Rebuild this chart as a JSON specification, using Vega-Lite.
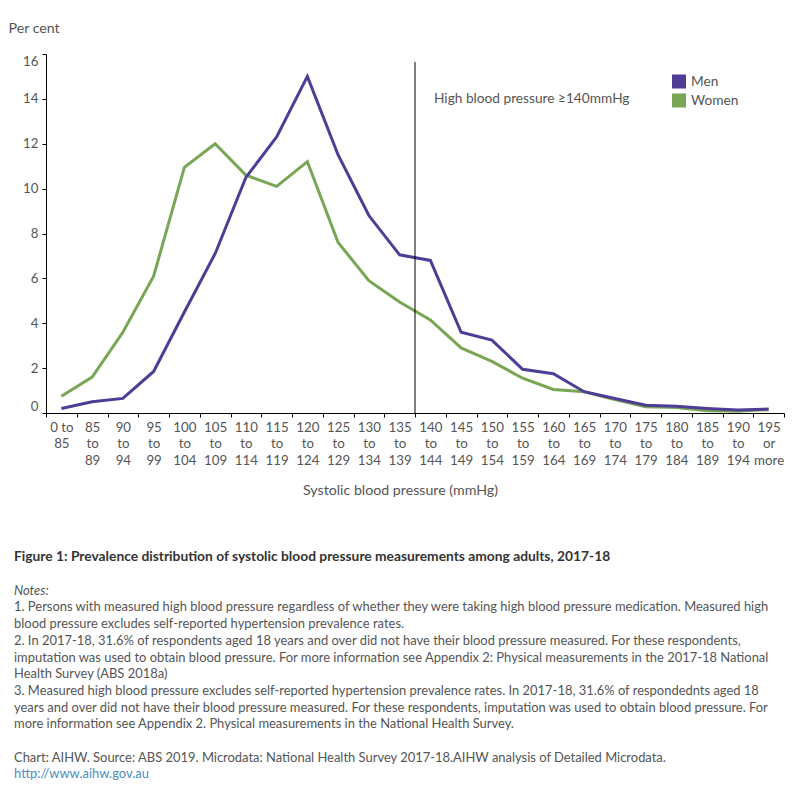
{
  "$schema": "https://vega.github.io/schema/vega-lite/v6.json",
  "background": "white",
  "padding": {"left": 8, "top": 21, "right": 10, "bottom": 5},
  "spacing": 51,
  "config": {
    "view": {"stroke": null},
    "font": "Lato",
    "axis": {"grid": false, "domainColor": "#000", "tickColor": "#000", "labelColor": "#555", "titleColor": "#555", "labelFont": "Lato", "titleFont": "Lato", "labelFontSize": 13.3, "titleFontSize": 14.2, "titleFontWeight": "normal"}
  },
  "resolve": {"scale": {"x": "independent", "y": "independent", "color": "shared"}, "legend": {"color": "independent"}},
  "datasets": {
    "bp": [
      {"c": "0 to 85", "s": "Women", "v": 0.75},
      {"c": "85 to 89", "s": "Women", "v": 1.6},
      {"c": "90 to 94", "s": "Women", "v": 3.6},
      {"c": "95 to 99", "s": "Women", "v": 6.1},
      {"c": "100 to 104", "s": "Women", "v": 10.95},
      {"c": "105 to 109", "s": "Women", "v": 12.0},
      {"c": "110 to 114", "s": "Women", "v": 10.6},
      {"c": "115 to 119", "s": "Women", "v": 10.1},
      {"c": "120 to 124", "s": "Women", "v": 11.2},
      {"c": "125 to 129", "s": "Women", "v": 7.6},
      {"c": "130 to 134", "s": "Women", "v": 5.9},
      {"c": "135 to 139", "s": "Women", "v": 4.95},
      {"c": "140 to 144", "s": "Women", "v": 4.15},
      {"c": "145 to 149", "s": "Women", "v": 2.9},
      {"c": "150 to 154", "s": "Women", "v": 2.3},
      {"c": "155 to 159", "s": "Women", "v": 1.55},
      {"c": "160 to 164", "s": "Women", "v": 1.05},
      {"c": "165 to 169", "s": "Women", "v": 0.95},
      {"c": "170 to 174", "s": "Women", "v": 0.6},
      {"c": "175 to 179", "s": "Women", "v": 0.28},
      {"c": "180 to 184", "s": "Women", "v": 0.25},
      {"c": "185 to 189", "s": "Women", "v": 0.1},
      {"c": "190 to 194", "s": "Women", "v": 0.08},
      {"c": "195 or more", "s": "Women", "v": 0.15},
      {"c": "0 to 85", "s": "Men", "v": 0.2},
      {"c": "85 to 89", "s": "Men", "v": 0.5},
      {"c": "90 to 94", "s": "Men", "v": 0.65},
      {"c": "95 to 99", "s": "Men", "v": 1.85},
      {"c": "100 to 104", "s": "Men", "v": 4.5},
      {"c": "105 to 109", "s": "Men", "v": 7.1},
      {"c": "110 to 114", "s": "Men", "v": 10.5},
      {"c": "115 to 119", "s": "Men", "v": 12.3},
      {"c": "120 to 124", "s": "Men", "v": 15.0},
      {"c": "125 to 129", "s": "Men", "v": 11.5},
      {"c": "130 to 134", "s": "Men", "v": 8.8},
      {"c": "135 to 139", "s": "Men", "v": 7.05},
      {"c": "140 to 144", "s": "Men", "v": 6.8},
      {"c": "145 to 149", "s": "Men", "v": 3.6},
      {"c": "150 to 154", "s": "Men", "v": 3.25},
      {"c": "155 to 159", "s": "Men", "v": 1.95},
      {"c": "160 to 164", "s": "Men", "v": 1.75},
      {"c": "165 to 169", "s": "Men", "v": 0.95},
      {"c": "170 to 174", "s": "Men", "v": 0.65},
      {"c": "175 to 179", "s": "Men", "v": 0.35},
      {"c": "180 to 184", "s": "Men", "v": 0.3},
      {"c": "185 to 189", "s": "Men", "v": 0.2},
      {"c": "190 to 194", "s": "Men", "v": 0.13},
      {"c": "195 or more", "s": "Men", "v": 0.18}
    ],
    "annot": [
      {"c": "140 to 144", "y0": 0, "y1": 15.65, "ly": 14, "label": "High blood pressure ≥140mmHg"}
    ],
    "notes": [
      {"k": 0, "st": "title", "t": "Figure 1: Prevalence distribution of systolic blood pressure measurements among adults, 2017-18"},
      {"k": 2, "st": "italic", "t": "Notes:"},
      {"k": 3, "st": "normal", "t": "1. Persons with measured high blood pressure regardless of whether they were taking high blood pressure medication. Measured high"},
      {"k": 4, "st": "normal", "t": "blood pressure excludes self-reported hypertension prevalence rates."},
      {"k": 5, "st": "normal", "t": "2. In 2017-18, 31.6% of respondents aged 18 years and over did not have their blood pressure measured. For these respondents,"},
      {"k": 6, "st": "normal", "t": "imputation was used to obtain blood pressure. For more information see Appendix 2: Physical measurements in the 2017-18 National"},
      {"k": 7, "st": "normal", "t": "Health Survey (ABS 2018a)"},
      {"k": 8, "st": "normal", "t": "3. Measured high blood pressure excludes self-reported hypertension prevalence rates. In 2017-18, 31.6% of respondednts aged 18"},
      {"k": 9, "st": "normal", "t": "years and over did not have their blood pressure measured. For these respondents, imputation was used to obtain blood pressure. For"},
      {"k": 10, "st": "normal", "t": "more information see Appendix 2. Physical measurements in the National Health Survey."},
      {"k": 12, "st": "normal", "t": "Chart: AIHW.  Source: ABS 2019. Microdata: National Health Survey 2017-18.AIHW analysis of Detailed Microdata."},
      {"k": 13, "st": "link", "t": "http://www.aihw.gov.au"}
    ]
  },
  "vconcat": [
    {
      "width": 738,
      "height": 359,
      "layer": [
        {
          "data": {"name": "bp"},
          "mark": {"type": "line", "strokeWidth": 3},
          "encoding": {
            "x": {
              "field": "c", "type": "nominal", "bandPosition": 0.5,
              "sort": ["0 to 85","85 to 89","90 to 94","95 to 99","100 to 104","105 to 109","110 to 114","115 to 119","120 to 124","125 to 129","130 to 134","135 to 139","140 to 144","145 to 149","150 to 154","155 to 159","160 to 164","165 to 169","170 to 174","175 to 179","180 to 184","185 to 189","190 to 194","195 or more"],
              "scale": {"type": "band", "paddingInner": 0, "paddingOuter": 0},
              "axis": {
                "title": "Systolic blood pressure (mmHg)",
                "labelAngle": 0, "tickBand": "extent", "tickSize": 4, "labelPadding": 3,
                "labelLineHeight": 16.5, "labelOverlap": false, "labelBaseline": "top",
                "labelExpr": "datum.value == null ? '' : (datum.value == '0 to 85' ? split('0 to|85', '|') : split(datum.value, ' '))",
                "titleX": 354, "titleY": 77, "titleBaseline": "middle", "titleAlign": "center"
              }
            },
            "y": {
              "field": "v", "type": "quantitative",
              "scale": {"domain": [0, 16], "nice": false},
              "axis": {
                "title": "Per cent", "values": [0, 2, 4, 6, 8, 10, 12, 14, 16],
                "tickSize": 4, "labelPadding": 4, "labelFlush": true,
                "titleAngle": 0, "titleX": -38, "titleY": -26, "titleAlign": "left", "titleBaseline": "middle"
              }
            },
            "color": {
              "field": "s", "type": "nominal",
              "scale": {"domain": ["Men", "Women"], "range": ["#4e3c96", "#79a655"]},
              "legend": {
                "title": null, "orient": "none", "legendX": 626, "legendY": 20.5,
                "symbolType": "square", "symbolSize": 196, "symbolStrokeWidth": 0, "symbolOpacity": 1,
                "labelFontSize": 13.7, "labelColor": "#555", "labelFont": "Lato",
                "rowPadding": 5, "labelOffset": 5,
                "encode": {"symbols": {"update": {"fill": {"scale": "color", "field": "value"}, "stroke": {"value": "transparent"}, "opacity": {"value": 1}}}}
              }
            }
          }
        },
        {
          "data": {"name": "annot"},
          "mark": {"type": "rule", "color": "#000", "strokeWidth": 1},
          "encoding": {
            "x": {"field": "c", "type": "nominal", "bandPosition": 0,
              "sort": ["0 to 85","85 to 89","90 to 94","95 to 99","100 to 104","105 to 109","110 to 114","115 to 119","120 to 124","125 to 129","130 to 134","135 to 139","140 to 144","145 to 149","150 to 154","155 to 159","160 to 164","165 to 169","170 to 174","175 to 179","180 to 184","185 to 189","190 to 194","195 or more"]},
            "y": {"field": "y0", "type": "quantitative"},
            "y2": {"field": "y1"}
          }
        },
        {
          "data": {"name": "annot"},
          "mark": {"type": "text", "align": "left", "baseline": "middle", "dx": 19, "fontSize": 13.7, "color": "#555", "font": "Lato"},
          "encoding": {
            "x": {"field": "c", "type": "nominal", "bandPosition": 0,
              "sort": ["0 to 85","85 to 89","90 to 94","95 to 99","100 to 104","105 to 109","110 to 114","115 to 119","120 to 124","125 to 129","130 to 134","135 to 139","140 to 144","145 to 149","150 to 154","155 to 159","160 to 164","165 to 169","170 to 174","175 to 179","180 to 184","185 to 189","190 to 194","195 or more"]},
            "y": {"field": "ly", "type": "quantitative"},
            "text": {"field": "label"}
          }
        }
      ]
    },
    {
      "width": 738,
      "height": {"step": 16.7},
      "data": {"name": "notes"},
      "encoding": {
        "y": {"field": "k", "type": "ordinal", "axis": null, "scale": {"domain": [0,1,2,3,4,5,6,7,8,9,10,11,12,13]}},
        "x": {"datum": 0, "type": "quantitative", "scale": {"domain": [0, 1]}, "axis": null},
        "text": {"field": "t"}
      },
      "layer": [
        {"transform": [{"filter": "datum.st == 'title'"}],
         "mark": {"type": "text", "align": "left", "baseline": "middle", "dx": -32, "font": "Lato", "fontWeight": "bold", "fontSize": 13.8, "color": "#333"}},
        {"transform": [{"filter": "datum.st == 'italic'"}],
         "mark": {"type": "text", "align": "left", "baseline": "middle", "dx": -32, "font": "Lato", "fontStyle": "italic", "fontSize": 12.95, "color": "#555"}},
        {"transform": [{"filter": "datum.st == 'normal'"}],
         "mark": {"type": "text", "align": "left", "baseline": "middle", "dx": -32, "font": "Lato", "fontSize": 12.95, "color": "#555"}},
        {"transform": [{"filter": "datum.st == 'link'"}],
         "mark": {"type": "text", "align": "left", "baseline": "middle", "dx": -32, "font": "Lato", "fontSize": 12.95, "color": "#4a8dc4"}}
      ]
    }
  ]
}
